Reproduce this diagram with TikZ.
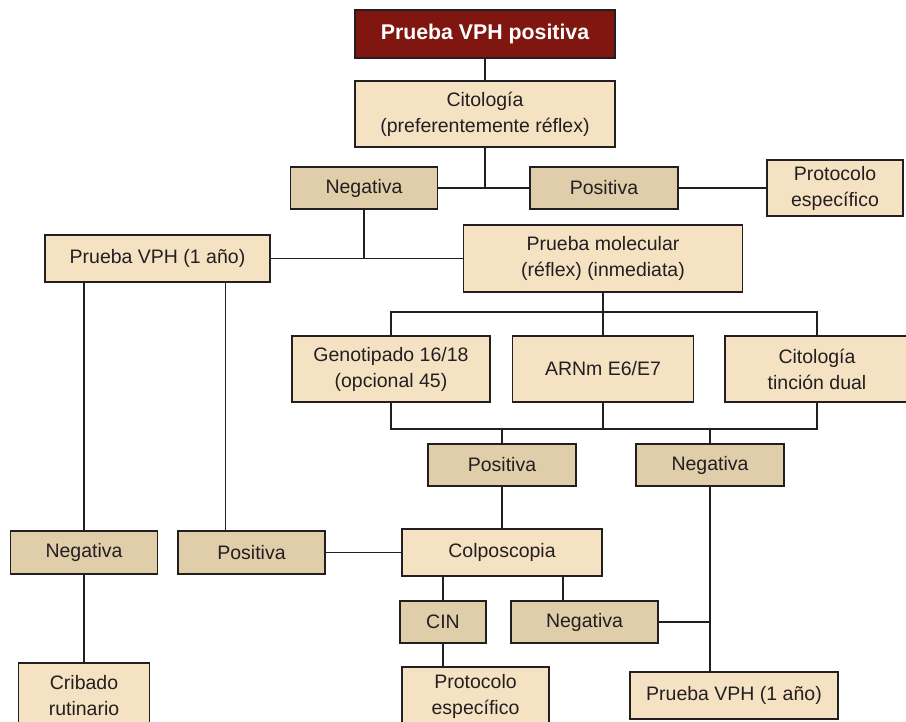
\documentclass[tikz,border=0pt]{standalone}
\usepackage{fontspec}
\setmainfont{Liberation Sans}
\usetikzlibrary{positioning, calc}
\definecolor{boxlight}{HTML}{F5E2C3}
\definecolor{boxdark}{HTML}{E0CDA9}
\definecolor{titlered}{HTML}{7F1710}
\definecolor{linegray}{HTML}{231F20}

\tikzset{
  box/.style={draw=linegray, line width=1.7pt, fill=boxlight, text=linegray,
    align=center, inner sep=0pt, font=\fontsize{19.5}{26}\selectfont},
  result/.style={box, fill=boxdark},
  header/.style={box, fill=titlered, text=white,
    font=\fontsize{21.3}{26}\selectfont\bfseries},
  link/.style={draw=linegray, line width=1.7pt},
}

\begin{document}
\begin{tikzpicture}[x=1pt, y=-1pt]
    \useasboundingbox (0,0) rectangle (906,722);

    % Draw the first steps
    \node[header, minimum width=260pt, minimum height=48pt] (start) at (485,34) {Prueba VPH positiva};
    \node[box, minimum width=260pt, minimum height=66pt] (cito) at (485,114) {Citología\\(preferentemente réflex)};
    \node[result, minimum width=147pt, minimum height=42pt] (citoneg) at (364,188) {Negativa};
    \node[result, minimum width=148pt, minimum height=42pt] (citopos) at (604,188) {Positiva};
    \node[box, minimum width=136pt, minimum height=56pt] (protop) at (835,188) {Protocolo\\específico};

    % Draw the follow-up and the molecular tests
    \node[box, minimum width=225pt, minimum height=47pt] (vphleft) at (157.5,258.5) {Prueba VPH (1 año)};
    \node[box, minimum width=279pt, minimum height=67pt] (molec) at (603,258.5) {Prueba molecular\\(réflex) (inmediata)};
    \node[box, minimum width=198pt, minimum height=66pt] (geno) at (391,369) {Genotipado 16/18\\(opcional 45)};
    \node[box, minimum width=181pt, minimum height=66pt] (arnm) at (603,369) {ARNm E6/E7};
    \node[box, minimum width=184pt, minimum height=66pt] (dual) at (817,369) {Citología\\tinción dual};
    \node[result, minimum width=148pt, minimum height=42pt] (molpos) at (502,465) {Positiva};
    \node[result, minimum width=148pt, minimum height=42pt] (molneg) at (710,465) {Negativa};

    % Draw the lower row
    \node[result, minimum width=147pt, minimum height=43pt] (vphneg) at (84,552.5) {Negativa};
    \node[result, minimum width=147pt, minimum height=43pt] (vphpos) at (251.5,552.5) {Positiva};
    \node[box, minimum width=200pt, minimum height=47pt] (colpo) at (502,552.5) {Colposcopia};
    \node[result, minimum width=86pt, minimum height=42pt] (cin) at (443,622) {CIN};
    \node[result, minimum width=147pt, minimum height=42pt] (colneg) at (584.5,622) {Negativa};
    \node[box, minimum width=131pt, minimum height=66pt] (cribado) at (84,696) {Cribado\\rutinario};
    \node[box, minimum width=147pt, minimum height=58pt] (protbot) at (475.5,696) {Protocolo\\específico};
    \node[box, minimum width=208pt, minimum height=47pt] (vphright) at (734,695.5) {Prueba VPH (1 año)};

    % Draw the connectors at the top
    \draw[link] (start) -- (cito);
    \draw[link] (cito.south) -- (cito.south |- citoneg.east);
    \draw[link] (citoneg.east) -- (citopos.west);
    \draw[link] (citopos.east) -- (protop.west);
    \draw[link] (citoneg.south) -- (citoneg.south |- vphleft.east);
    \draw[link] (vphleft.east) -- (molec.west);

    % Draw the molecular branches
    \coordinate (bartop) at (603,312);
    \coordinate (barbot) at (603,429);
    \draw[link] (molec.south) -- (arnm.north);
    \draw[link] (geno.north) |- (bartop) -| (dual.north);
    \draw[link] (geno.south) |- (barbot) -| (dual.south);
    \draw[link] (arnm.south) -- (barbot);
    \draw[link] (molpos.north) -- (molpos.north |- barbot);
    \draw[link] (molneg.north) -- (molneg.north |- barbot);

    % Draw the connectors at the bottom
    \draw[link] (molpos.south) -- (colpo.north);
    \draw[link] (molneg.south) -- (molneg.south |- vphright.north);
    \draw[link] (colneg.east) -- (molneg.south |- colneg.east);
    \draw[link] (vphleft.south -| vphneg.north) -- (vphneg.north);
    \draw[link] ([xshift=68pt]vphleft.south) -- ([xshift=68pt]vphleft.south |- vphpos.north);
    \draw[link] (vphpos.east) -- (colpo.west);
    \draw[link] (colpo.south -| cin.north) -- (cin.north);
    \draw[link] ([xshift=61pt]colpo.south) -- ([xshift=61pt]colpo.south |- colneg.north);
    \draw[link] (cin.south) -- (cin.south |- protbot.north);
    \draw[link] (vphneg.south) -- (cribado.north);
\end{tikzpicture}
\end{document}
